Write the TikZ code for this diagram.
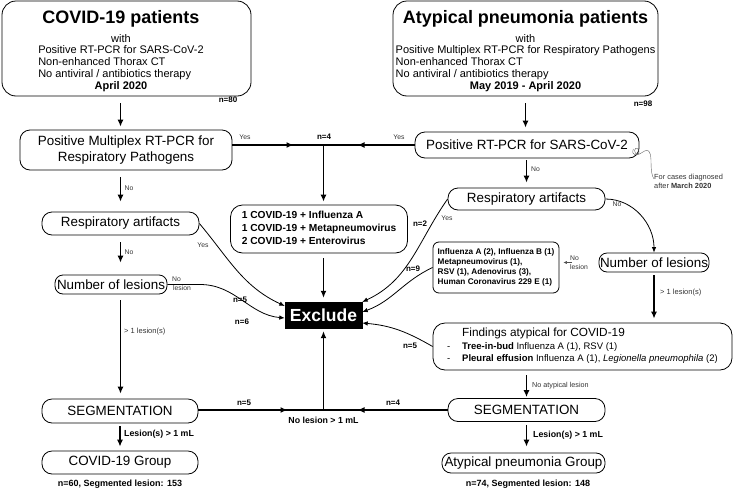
\documentclass[tikz,border=0pt]{standalone}
\usepackage{fontspec}
\setmainfont{Liberation Sans}
\usetikzlibrary{arrows.meta,positioning}

\newcommand{\fsz}[2]{\fontsize{#1}{#2}\selectfont}

\begin{document}
\begin{tikzpicture}[x=1pt,y=-1pt,
        flowbox/.style={draw, line width=0.8pt, rounded corners=8pt, align=center, inner sep=0pt, font=\fsz{13.4}{16.5}},
        bigbox/.style={flowbox, rounded corners=14pt, minimum width=#1, minimum height=95, font=\fsz{11}{11.8}},
        arr/.style={line width=1.3pt, -{Latex[length=7pt,width=6pt]}},
        plainline/.style={line width=1.3pt},
        curvearr/.style={line width=0.8pt, -{Latex[length=5.5pt,width=4.5pt]}},
        tag/.style={font=\fsz{6.8}{8}, text=black!80, inner sep=0pt},
        count/.style={font=\fsz{8}{9}\bfseries, inner sep=0pt},
        cond/.style={font=\fsz{8.8}{10}\bfseries, inner sep=0pt}]
        \useasboundingbox (0, 0) rectangle (738, 490);

        \node[bigbox=249] (covid) at (126.5, 48.5) {\begin{tabular}{@{}l@{\hspace{11pt}}}
                \multicolumn{1}{@{}c@{\hspace{11pt}}}{\rule{0pt}{19pt}\fsz{18}{20}\bfseries COVID-19 patients}\\[7pt]
                \multicolumn{1}{@{}c@{\hspace{11pt}}}{with}\\
                Positive RT-PCR for SARS-CoV-2\\
                Non-enhanced Thorax CT\\
                No antiviral / antibiotics therapy\\
                \multicolumn{1}{@{}c@{\hspace{11pt}}}{\bfseries April 2020}
            \end{tabular}};
        \node[bigbox=265] (atyp) at (525.5, 48.5) {\begin{tabular}{@{}l@{}}
                \multicolumn{1}{@{}c@{}}{\rule{0pt}{19pt}\fsz{18}{20}\bfseries Atypical pneumonia patients}\\[7pt]
                \multicolumn{1}{@{}c@{}}{with}\\
                Positive Multiplex RT-PCR for Respiratory Pathogens\\
                Non-enhanced Thorax CT\\
                No antiviral / antibiotics therapy\\
                \multicolumn{1}{@{}c@{}}{\bfseries May 2019 - April 2020}
            \end{tabular}};

        \node[flowbox, rounded corners=10pt, minimum width=212, minimum height=40] (pcr) at (126, 150) {Positive Multiplex RT-PCR for\\Respiratory Pathogens};
        \node[flowbox, rounded corners=10pt, minimum width=224, minimum height=26] (sars) at (527, 145) {Positive RT-PCR for SARS-CoV-2};
        \node[flowbox, rounded corners=10pt, minimum width=157, minimum height=23] (respL) at (120.5, 223.5) {Respiratory artifacts};
        \node[flowbox, rounded corners=10pt, minimum width=157, minimum height=22] (respR) at (526.5, 199) {Respiratory artifacts};
        \node[flowbox, rounded corners=12pt, minimum width=177, minimum height=48, font=\fsz{10.2}{13}\bfseries] (coinf) at (319, 229) {\begin{tabular}{@{}l@{}}
                1 COVID-19 + Influenza A\\
                1 COVID-19 + Metapneumovirus\\
                2 COVID-19 + Enterovirus
            \end{tabular}};
        \node[flowbox, minimum width=112, minimum height=19] (numL) at (111, 284.5) {Number of lesions};
        \node[flowbox, minimum width=110, minimum height=19] (numR) at (654, 262.5) {Number of lesions};
        \node[flowbox, rounded corners=6pt, minimum width=126, minimum height=51, font=\fsz{8.2}{10}\bfseries] (infect) at (496, 267.5) {\begin{tabular}{@{}l@{}}
                Influenza A (2), Influenza B (1)\\
                Metapneumovirus (1),\\
                RSV (1), Adenovirus (3),\\
                Human Coronavirus 229 E (1)
            \end{tabular}};
        \node[draw, fill=black, text=white, inner sep=0pt, minimum width=77, minimum height=26, font=\fsz{17.5}{20}\bfseries] (exclude) at (323.5, 315) {Exclude};
        \node[flowbox, rounded corners=12pt, minimum width=299, minimum height=47, font=\fsz{9.5}{12}] (findings) at (582.5, 346.5) {\begin{tabular}{@{}l@{\hspace{11.8pt}}l@{}}
                & {\fsz{11.8}{13}Findings atypical for COVID-19}\\[1.5pt]
                - & \textbf{Tree-in-bud} Influenza A (1), RSV (1)\\
                - & \textbf{Pleural effusion} Influenza A (1), \textit{Legionella pneumophila} (2)
            \end{tabular}};
        \node[flowbox, rounded corners=10pt, minimum width=156, minimum height=24] (segL) at (120, 411) {SEGMENTATION};
        \node[flowbox, rounded corners=10pt, minimum width=157, minimum height=23] (segR) at (526.5, 410) {SEGMENTATION};
        \node[flowbox, rounded corners=10pt, minimum width=156, minimum height=23] (grpL) at (120, 462.5) {COVID-19 Group};
        \node[flowbox, rounded corners=9pt, minimum width=163, minimum height=20] (grpR) at (523.5, 463) {Atypical pneumonia Group};

        \node[font=\fsz{7.4}{9}, text=black!80, inner sep=0pt, align=left, anchor=north west] (note) at (654, 174) {For cases diagnosed\\after \textbf{March 2020}};

        \coordinate (jtop) at (323.5, 145);
        \coordinate (jbot) at (323.5, 410);
        \coordinate (kinkL) at (200, 284.5);

        \node[count] (n80) at (228, 100) { n=80 };
        \node[count] (n98) at (643, 104) { n=98 };
        \node[tag] (yesA) at (245, 137) { Yes };
        \node[tag] (yesB) at (399, 137) { Yes };
        \node[count] (n4a) at (324, 137) { n=4 };
        \node[tag] (noA) at (129, 188) { No };
        \node[tag] (noB) at (129, 252) { No };
        \node[tag] (yesC) at (203, 245) { Yes };
        \node[count] (n5a) at (240, 300) { n=5 };
        \node[tag, anchor=west] (noC) at (172, 279) { No };
        \node[tag, anchor=west] (lesC) at (173, 288.5) { lesion };
        \node[count] (n6) at (242, 322) { n=6 };
        \node[tag, font=\fsz{7.5}{9}, anchor=west] (gtL) at (124, 332) { > 1 lesion(s) };
        \node[cond, anchor=west] (lesL) at (124, 434) { Lesion(s) > 1 mL };
        \node[font=\fsz{9}{10}\bfseries, inner sep=0pt] (totL) at (120, 484) { n=60, Segmented lesion: 153 };
        \node[count] (n5b) at (244, 403) { n=5 };
        \node[count] (n4b) at (393, 403) { n=4 };
        \node[cond] (nolesB) at (323.5, 420) { No lesion > 1 mL };
        \node[tag] (noD) at (535.5, 169) { No };
        \node[tag] (noE) at (617, 204) { No };
        \node[count] (n2) at (420, 224) { n=2 };
        \node[tag] (yesD) at (447, 218) { Yes };
        \node[count] (n9) at (413, 269) { n=9 };
        \node[tag, anchor=west] (noF) at (570, 258) { No };
        \node[tag, anchor=west] (lesF) at (570, 267) { lesion };
        \node[tag, font=\fsz{7.5}{9}, anchor=west] (gtR) at (660, 293) { > 1 lesion(s) };
        \node[count] (n5c) at (410, 346) { n=5 };
        \node[tag, font=\fsz{7.2}{9}, anchor=west] (noatyp) at (532, 386) { No atypical lesion };
        \node[cond, anchor=west] (lesR) at (533, 435) { Lesion(s) > 1 mL };
        \node[font=\fsz{9}{10}\bfseries, inner sep=0pt] (totR) at (528, 484) { n=74, Segmented lesion: 148 };

        \draw[arr, shorten <=7pt, shorten >=3pt] (covid.south -| respL) -- (pcr.north -| respL);
        \draw[arr, shorten <=7pt, shorten >=4pt] (atyp.south) -- (sars.north -| atyp);
        \draw[arr, shorten <=7pt, shorten >=10pt] (pcr.south -| respL) -- (respL.north);
        \draw[arr, shorten <=7pt, shorten >=12pt] (respL.south) -- (numL.north -| respL);
        \draw[arr, shorten <=6pt, shorten >=5pt] (numL.south -| respL) -- (segL.north -| respL);
        \draw[arr, shorten <=3pt, shorten >=4pt] (segL.south) -- (grpL.north);

        \draw[plainline] (pcr.east |- jtop) -- (jtop);
        \draw[arr] (pcr.east |- jtop) -- ([xshift=-30pt]jtop);
        \draw[plainline] (sars.west) -- (jtop);
        \draw[arr] (sars.west) -- ([xshift=34pt]jtop);
        \draw[arr, shorten >=3pt] (jtop) -- (coinf.north -| jtop);
        \draw[arr, shorten <=5pt, shorten >=4pt] (coinf.south -| exclude) -- (exclude.north);

        \draw[plainline] (segL.east |- jbot) -- (jbot);
        \draw[arr] (segL.east |- jbot) -- ([xshift=-36pt]jbot);
        \draw[plainline] (segR.west) -- (jbot);
        \draw[arr] (segR.west) -- ([xshift=34pt]jbot);
        \draw[arr, shorten >=3pt] (jbot) -- (exclude.south);

        \draw[curvearr] (respL.east) to[out=-50, in=155] ([yshift=9pt]exclude.west);
        \draw[curvearr] (numL.east) -- (kinkL) to[out=0, in=175] ([yshift=-3pt]exclude.west);
        \draw[curvearr] (respR.west) to[out=235, in=25] ([yshift=13pt]exclude.east);
        \draw[curvearr] (infect.west) to[out=205, in=20] ([yshift=3pt]exclude.east);
        \draw[curvearr] (findings.west) to[out=150, in=-5] ([yshift=-8pt]exclude.east);

        \draw[arr, shorten <=2pt, shorten >=5pt] (sars.south -| respR) -- (respR.north);
        \draw[curvearr] (respR.east) to[out=0, in=90] (numR.north);
        \draw[line width=0.5pt, black!70, -{Latex[length=3.5pt,width=3pt]}, shorten <=27pt, shorten >=4pt] (numR.west) -- (infect.east |- numR.west);
        \draw[arr, shorten <=3pt, shorten >=4pt] (numR.south) -- (findings.north -| numR);
        \draw[arr, shorten <=5pt, shorten >=1pt] (findings.south -| segR) -- (segR.north);
        \draw[arr, shorten <=3pt, shorten >=6pt] (segR.south) -- (grpR.north -| segR);

        \draw[black!60, line width=0.4pt] ([shift={(-6, 4)}]sars.east) .. controls (630, 156) and (640, 157) .. (639, 151) .. controls (638, 146) and (632, 148) .. (636, 154) .. controls (640, 158) and (650, 140) .. (651, 160) .. controls (651, 172) and (652, 176) .. ([yshift=-5pt]note.north west);

    \end{tikzpicture}
\end{document}
